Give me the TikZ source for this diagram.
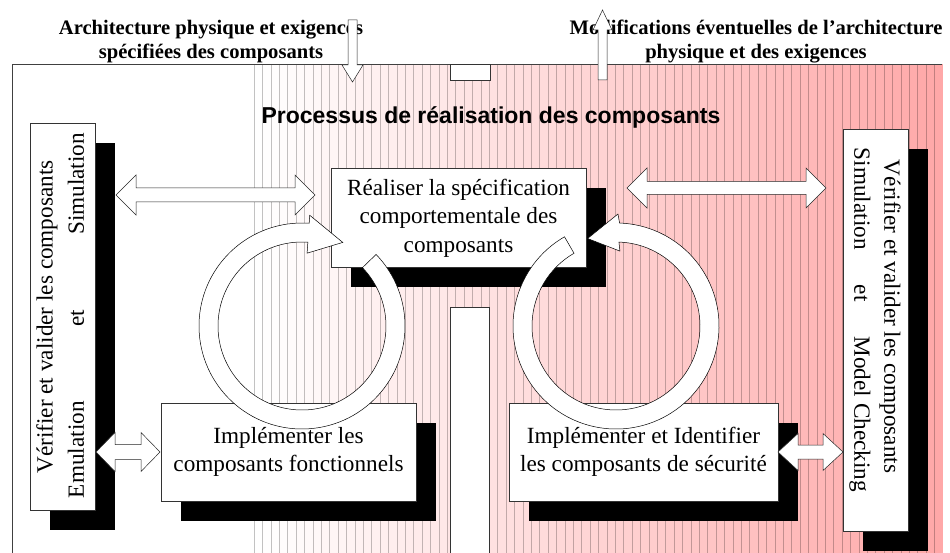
\documentclass[tikz,border=0pt]{standalone}
\usepackage{fontspec}
\setmainfont{Liberation Serif}
\newfontfamily\arialfont{Liberation Sans}
\usetikzlibrary{shadows}
\newcommand\mydblarrow[6]{% x1,x2,y,half shaft,half head,head length
  \draw[blockarrow] (#1,#3) -- ({#1+#6},{#3-#5}) -- ({#1+#6},{#3-#4}) -- ({#2-#6},{#3-#4}) -- ({#2-#6},{#3-#5}) -- (#2,#3) -- ({#2-#6},{#3+#5}) -- ({#2-#6},{#3+#4}) -- ({#1+#6},{#3+#4}) -- ({#1+#6},{#3+#5}) -- cycle;}
\begin{document}
\begin{tikzpicture}[x=1pt,y=-1pt,
  box/.style={draw=black!80,line width=0.6pt,fill=white,inner sep=0pt},
  shadowed/.style={general shadow={fill=black,shadow xshift=20pt,shadow yshift=-20pt}},
  blockarrow/.style={draw=black!85,line width=0.5pt,fill=white,line join=miter},
  ring/.style={draw=black,line width=0.5pt,fill=white},
  bodytext/.style={font=\fontsize{23.2}{28.5}\selectfont,align=center},
  titletext/.style={font=\bfseries\fontsize{20.6}{24}\selectfont,align=center,inner sep=0pt},
  ]
\useasboundingbox (0,0) rectangle (950,553);
% gradient background
\foreach \i in {0,...,81}{
  \pgfmathsetmacro\xa{254+\i*8.4}
  \pgfmathsetmacro\xb{\xa+8.4}
  \pgfmathsetmacro\pc{34*\i/81}
  \fill[red!\pc!white] (\xa,64) rectangle (\xb,553);
  \draw[black,draw opacity=0.24,line width=0.6pt] (\xa,64) -- (\xa,553);
}
% frame
\draw[black!75,line width=0.8pt] (12,553) -- (12,64) -- (942,64);
\draw[box] (450,64) rectangle (490,80);
\draw[box] (450,307) rectangle (489,560);
% titles
\node[titletext] (titleL) at (211,42) {Architecture physique et exigences\\spécifiées des composants};
\node[titletext] (titleR) at (756,42) {Modifications éventuelles de l’architecture\\physique et des exigences};
\node[font=\arialfont\bfseries\fontsize{23}{27}\selectfont,inner sep=0pt] (proc) at (491,117) {Processus de réalisation des composants};
% vertical arrows
\draw[blockarrow] (348,20) -- (357,20) -- (357,65) -- (363,65) -- (352.5,82) -- (342,65) -- (348,65) -- cycle;
\draw[blockarrow] (598,80) -- (598,30) -- (593,30) -- (602.5,10) -- (612,30) -- (607,30) -- (607,80) -- cycle;
% boxes
\node[box,shadowed,minimum width=65pt,minimum height=387pt] (vvL) at (62.5,316.5) {};
\node[box,shadowed,minimum width=65pt,minimum height=402pt] (vvR) at (875.5,330) {};
\node[box,shadowed,minimum width=255pt,minimum height=99pt,bodytext] (spec) at (458.5,218) {Réaliser la spécification\\comportementale des\\composants};
\node[box,shadowed,minimum width=255pt,minimum height=98pt,bodytext] (implF) at (288.5,452) {Implémenter les\\composants fonctionnels};
\node[box,shadowed,minimum width=269pt,minimum height=98pt,bodytext] (implS) at (643.5,452) {Implémenter et Identifier\\les composants de sécurité};
% rotated texts
\node[bodytext,rotate=90,inner sep=0pt] (vvLa) at (47,317) {Vérifier et valider les composants};
\node[bodytext,rotate=90,inner sep=0pt] (vvLb) at (76,315.5) {\makebox[365pt]{Emulation\hfill et\hfill Simulation}};
\node[bodytext,rotate=-90,inner sep=0pt] (vvRa) at (890,316.5) {Vérifier et valider les composants};
\node[bodytext,rotate=-90,inner sep=0pt] (vvRb) at (860,320) {\makebox[344pt]{Simulation\hfill et\hfill Model Checking}};
% double arrows
\mydblarrow{116}{315}{195}{7}{20}{20}
\mydblarrow{627}{826}{188}{6.5}{20}{20}
\mydblarrow{96}{160}{452}{7.5}{19.5}{19}
\mydblarrow{778}{843}{452}{7}{18.5}{20}
% ring arrows
\draw[ring] ({302+103*cos(44)},{326-103*sin(44)}) arc[start angle=-44,end angle=274,radius=103]
  -- ({302+111*cos(86)},{326-111*sin(86)}) -- ({302+93*cos(64)},{326-93*sin(64)})
  -- ({302+73*cos(86)},{326-73*sin(86)}) -- ({302+84*cos(86)},{326-84*sin(86)})
  arc[start angle=274,end angle=-44,radius=84] -- cycle;
\draw[ring] ({616+103*cos(120)},{326-103*sin(120)}) arc[start angle=-120,end angle=-448,radius=103]
  -- ({616+112*cos(89)},{326-112*sin(89)}) -- ({616+92*cos(108)},{326-92*sin(108)})
  -- ({616+75*cos(87)},{326-75*sin(87)}) -- ({616+84*cos(88)},{326-84*sin(88)})
  arc[start angle=-448,end angle=-120,radius=84] -- cycle;
\end{tikzpicture}
\end{document}
